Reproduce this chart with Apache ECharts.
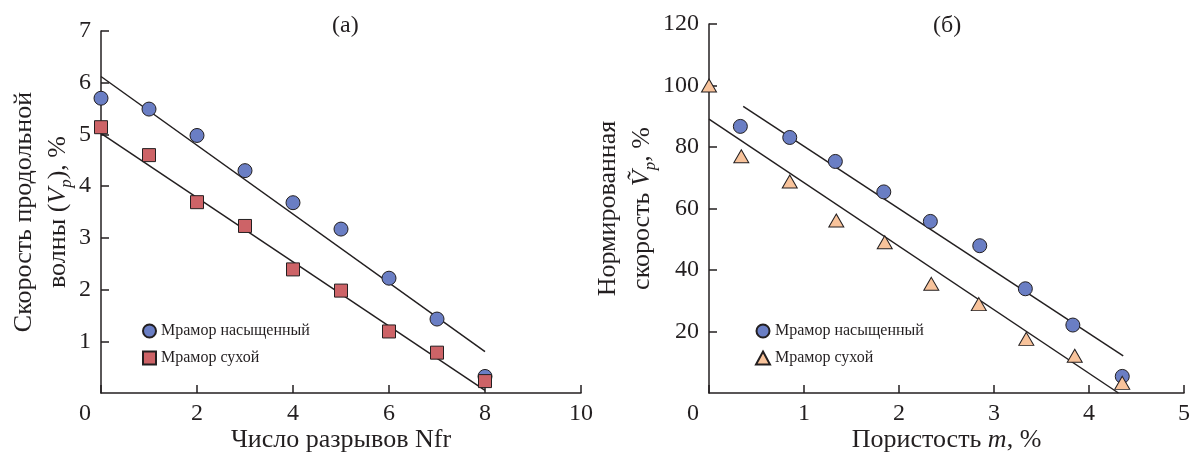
<!DOCTYPE html>
<html>
<head>
<meta charset="utf-8">
<script src="https://cdn.jsdelivr.net/npm/echarts@6/dist/echarts.min.js"></script>
<style>
html,body{margin:0;padding:0;background:#fff;}
#chart{width:1191px;height:453px;}
</style>
</head>
<body>
<div id="chart"></div>
<script>
// ---- Data (a) ----
var nfr = [0, 1, 2, 3, 4, 5, 6, 7, 8];
var satA = [5.70, 5.49, 4.98, 4.30, 3.68, 3.17, 2.22, 1.43, 0.32];
var dryA = [5.14, 4.60, 3.69, 3.23, 2.39, 1.98, 1.19, 0.78, 0.23];
var fitSatAx = [0, 8];
var fitSatAy = [6.12, 0.80];
var fitDryAx = [0, 8];
var fitDryAy = [5.02, 0.05];

// ---- Data (б) ----
var porSat = [0.33, 0.85, 1.33, 1.84, 2.33, 2.85, 3.33, 3.83, 4.35];
var satB = [86.7, 83.1, 75.3, 65.4, 55.8, 47.9, 33.9, 22.1, 5.4];
var porDry = [0, 0.34, 0.85, 1.34, 1.85, 2.34, 2.84, 3.34, 3.85, 4.35];
var dryB = [100, 77.0, 68.8, 56.1, 49.0, 35.5, 28.9, 17.6, 12.1, 3.3];
var fitSatBx = [0.36, 4.36];
var fitSatBy = [93.2, 12.1];
var fitDryBx = [0, 4.31];
var fitDryBy = [89.1, 0];

// ---- Text ----
var titleA = '(a)';
var titleB = '(б)';
var legendNames = {
  satA: 'Мрамор насыщенный',
  dryA: 'Мрамор сухой',
  satB: 'Мрамор насыщенный',
  dryB: 'Мрамор сухой'
};

function pairs(xs, ys) {
  return xs.map(function (x, i) { return [x, ys[i]]; });
}

var FONT = '"Liberation Serif", "DejaVu Serif", serif';
var INK = '#231f20';
var BLUE = '#6a7ec4';
var RED = '#cd6367';
var PEACH = '#f8c39b';

function xLabel() {
  return {
    margin: 9,
    color: INK,
    fontFamily: FONT,
    fontSize: 24,
    formatter: function (v) { return v === 0 ? '{z|0}' : String(v); },
    rich: { z: { fontFamily: FONT, fontSize: 24, color: INK, padding: [0, 32, 0, 0] } }
  };
}
function yLabel() {
  return { margin: 10, color: INK, fontFamily: FONT, fontSize: 24, showMinLabel: false };
}
var axisLine = { show: true, lineStyle: { color: INK, width: 1.5 } };
var axisTick = { show: true, inside: true, length: 8, lineStyle: { color: INK, width: 1.5 } };

var nameRich = {
  n: { fontFamily: FONT, fontSize: 26, color: INK, lineHeight: 34 },
  i: { fontFamily: FONT, fontSize: 26, color: INK, fontStyle: 'italic', lineHeight: 34 },
  sub: { fontFamily: FONT, fontSize: 17, color: INK, fontStyle: 'italic', verticalAlign: 'bottom', lineHeight: 26 }
};
var xNameRich = {
  n: { fontFamily: FONT, fontSize: 26, color: INK },
  i: { fontFamily: FONT, fontSize: 26, color: INK, fontStyle: 'italic' }
};

var option = {
  animation: false,
  backgroundColor: '#ffffff',
  title: [
    { text: titleA, left: 332, top: 14, padding: 0, textStyle: { fontFamily: FONT, fontSize: 24, fontWeight: 'normal', color: INK } },
    { text: titleB, left: 933, top: 14, padding: 0, textStyle: { fontFamily: FONT, fontSize: 24, fontWeight: 'normal', color: INK } }
  ],
  grid: [
    { left: 101, top: 31, width: 480, height: 362, containLabel: false, outerBoundsMode: 'none' },
    { left: 709, top: 24, width: 475, height: 369, containLabel: false, outerBoundsMode: 'none' }
  ],
  xAxis: [
    {
      gridIndex: 0, type: 'value', min: 0, max: 10, interval: 2,
      axisLine: axisLine, axisTick: axisTick, splitLine: { show: false },
      axisLabel: xLabel(),
      name: 'Число разрывов Nfr', nameLocation: 'middle', nameGap: 34, nameMoveOverlap: false,
      nameTextStyle: { fontFamily: FONT, fontSize: 26, color: INK }
    },
    {
      gridIndex: 1, type: 'value', min: 0, max: 5, interval: 1,
      axisLine: axisLine, axisTick: axisTick, splitLine: { show: false },
      axisLabel: xLabel(),
      name: '{n|Пористость }{i|m}{n|, %}', nameLocation: 'middle', nameGap: 34, nameMoveOverlap: false,
      nameTextStyle: { fontFamily: FONT, fontSize: 26, color: INK, rich: xNameRich }
    }
  ],
  yAxis: [
    {
      gridIndex: 0, type: 'value', min: 0, max: 7, interval: 1,
      axisLine: axisLine, axisTick: axisTick, splitLine: { show: false },
      axisLabel: yLabel(),
      name: '{n|Скорость продольной}\n{n|волны (}{i|V}{sub|p}{n|), %}',
      nameLocation: 'middle', nameGap: 26, nameRotate: 90,
      nameTextStyle: { fontFamily: FONT, fontSize: 26, color: INK, rich: nameRich }
    },
    {
      gridIndex: 1, type: 'value', min: 0, max: 120, interval: 20,
      axisLine: axisLine, axisTick: axisTick, splitLine: { show: false },
      axisLabel: yLabel(),
      name: '{n|Нормированная}\n{n|скорость }{i|Ṽ}{sub|p}{n|, %}',
      nameLocation: 'middle', nameGap: 43, nameRotate: 90,
      nameTextStyle: { fontFamily: FONT, fontSize: 26, color: INK, rich: nameRich }
    }
  ],
  legend: [
    {
      data: ['satA', 'dryA'], orient: 'vertical', left: 142, top: 323, padding: 0,
      itemWidth: 13, itemHeight: 13, itemGap: 11,
      formatter: function (n) { return legendNames[n]; },
      textStyle: { fontFamily: FONT, fontSize: 16, color: INK }
    },
    {
      data: ['satB', 'dryB'], orient: 'vertical', left: 755, top: 323, padding: 0,
      itemWidth: 14, itemHeight: 13, itemGap: 11,
      formatter: function (n) { return legendNames[n]; },
      textStyle: { fontFamily: FONT, fontSize: 16, color: INK }
    }
  ],
  series: [
    {
      type: 'line', xAxisIndex: 0, yAxisIndex: 0, data: pairs(fitSatAx, fitSatAy),
      showSymbol: false, symbol: 'none', clip: false, silent: true,
      lineStyle: { color: INK, width: 1.5 }, z: 2
    },
    {
      type: 'line', xAxisIndex: 0, yAxisIndex: 0, data: pairs(fitDryAx, fitDryAy),
      showSymbol: false, symbol: 'none', clip: false, silent: true,
      lineStyle: { color: INK, width: 1.5 }, z: 2
    },
    {
      name: 'satA', type: 'scatter', xAxisIndex: 0, yAxisIndex: 0, data: pairs(nfr, satA),
      symbol: 'circle', symbolSize: 14, clip: false, z: 3,
      itemStyle: { color: BLUE, borderColor: INK, borderWidth: 1, opacity: 1 }
    },
    {
      name: 'dryA', type: 'scatter', xAxisIndex: 0, yAxisIndex: 0, data: pairs(nfr, dryA),
      symbol: 'rect', symbolSize: 13, clip: false, z: 3,
      itemStyle: { color: RED, borderColor: INK, borderWidth: 1, opacity: 1 }
    },
    {
      type: 'line', xAxisIndex: 1, yAxisIndex: 1, data: pairs(fitSatBx, fitSatBy),
      showSymbol: false, symbol: 'none', clip: false, silent: true,
      lineStyle: { color: INK, width: 1.5 }, z: 2
    },
    {
      type: 'line', xAxisIndex: 1, yAxisIndex: 1, data: pairs(fitDryBx, fitDryBy),
      showSymbol: false, symbol: 'none', clip: false, silent: true,
      lineStyle: { color: INK, width: 1.5 }, z: 2
    },
    {
      name: 'satB', type: 'scatter', xAxisIndex: 1, yAxisIndex: 1, data: pairs(porSat, satB),
      symbol: 'circle', symbolSize: 14, clip: false, z: 3,
      itemStyle: { color: BLUE, borderColor: INK, borderWidth: 1, opacity: 1 }
    },
    {
      name: 'dryB', type: 'scatter', xAxisIndex: 1, yAxisIndex: 1, data: pairs(porDry, dryB),
      symbol: 'triangle', symbolSize: [15, 13], clip: false, z: 3,
      itemStyle: { color: PEACH, borderColor: INK, borderWidth: 1, opacity: 1 }
    }
  ]
};

var chart = echarts.init(document.getElementById('chart'), null, { renderer: 'canvas' });
chart.setOption(option);
</script>
</body>
</html>
